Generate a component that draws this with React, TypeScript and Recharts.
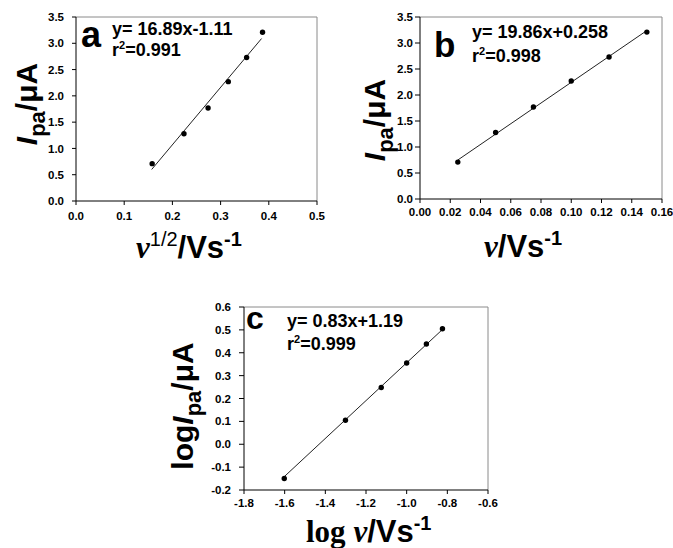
import React from 'react';
import { ScatterChart, Scatter, XAxis, YAxis, ReferenceLine } from 'recharts';

const sqrtScan = [0.158, 0.224, 0.274, 0.316, 0.354, 0.387];
const scanRate = [0.025, 0.05, 0.075, 0.1, 0.125, 0.15];
const ipa = [0.71, 1.28, 1.77, 2.27, 2.73, 3.21];
const logScan = [-1.602, -1.301, -1.125, -1.0, -0.903, -0.824];
const logIpa = [-0.15, 0.105, 0.248, 0.355, 0.438, 0.505];

// fitted line end points
const fitAX = [0.157, 0.385];
const fitAY = [0.6, 3.09];
const fitBX = [0.025, 0.15];
const fitBY = [0.75, 3.24];
const fitCX = [-1.6, -0.82];
const fitCY = [-0.14, 0.505];

// ticks
const aXTicks = [0, 0.1, 0.2, 0.3, 0.4, 0.5];
const abYTicks = [0, 0.5, 1, 1.5, 2, 2.5, 3, 3.5];
const bXTicks = [0, 0.02, 0.04, 0.06, 0.08, 0.1, 0.12, 0.14, 0.16];
const cXTicks = [-1.8, -1.6, -1.4, -1.2, -1.0, -0.8, -0.6];
const cYTicks = [-0.2, -0.1, 0, 0.1, 0.2, 0.3, 0.4, 0.5, 0.6];

const zip = (xs: number[], ys: number[]) => xs.map((x, i) => ({ x, y: ys[i] }));

const sans = '"Liberation Sans", Arial, Helvetica, sans-serif';
const serif = '"Liberation Serif", "Times New Roman", serif';

const tickStyle = { fontSize: 11.5, fontWeight: 700, fill: '#000', fontFamily: sans };

const Dot = (props: any) => <circle cx={props.cx} cy={props.cy} r={2.7} fill="#000" />;
const NoDot = () => <g />;

interface PanelProps {
  left: number;
  top: number;
  width: number;
  height: number;
  right: number;
  yWidth: number;
  xHeight: number;
  yTickSize: number;
  yTickMargin: number;
  xTickMargin: number;
  xDomain: [number, number];
  yDomain: [number, number];
  xTicks: number[];
  yTicks: number[];
  xDigits: number;
  yDigits: number;
  points: { x: number; y: number }[];
  fit: { x: number; y: number }[];
}

function Panel(p: PanelProps) {
  return (
    <div style={{ position: 'absolute', left: p.left, top: p.top }}>
      <ScatterChart width={p.width} height={p.height} margin={{ top: 17, right: p.right, bottom: 0, left: 0 }}>
        <XAxis
          type="number"
          dataKey="x"
          domain={p.xDomain}
          ticks={p.xTicks}
          allowDataOverflow
          height={p.xHeight}
          tickFormatter={(v: number) => v.toFixed(p.xDigits)}
          tick={tickStyle}
          tickSize={4}
          tickMargin={p.xTickMargin}
          stroke="#000"
          interval={0}
        />
        <YAxis
          type="number"
          dataKey="y"
          domain={p.yDomain}
          ticks={p.yTicks}
          allowDataOverflow
          width={p.yWidth}
          tickFormatter={(v: number) => v.toFixed(p.yDigits)}
          tick={tickStyle}
          tickSize={p.yTickSize}
          tickMargin={p.yTickMargin}
          stroke="#000"
          interval={0}
        />
        <ReferenceLine y={p.yDomain[1]} stroke="#8a8a8a" />
        <ReferenceLine x={p.xDomain[1]} stroke="#8a8a8a" />
        <Scatter data={p.fit} line={{ stroke: '#222', strokeWidth: 1 }} shape={NoDot} isAnimationActive={false} />
        <Scatter data={p.points} shape={Dot} isAnimationActive={false} />
      </ScatterChart>
    </div>
  );
}

export default function App() {
  return (
    <div style={{ position: 'absolute', left: 0, top: 0, width: 673, height: 548, background: '#fff', overflow: 'hidden' }}>
      <Panel
        left={0} top={0} width={330} height={270} right={13} yWidth={76} xHeight={69}
        yTickSize={4} yTickMargin={8} xTickMargin={7}
        xDomain={[0, 0.5]} yDomain={[0, 3.5]} xTicks={aXTicks} yTicks={abYTicks} xDigits={1} yDigits={1}
        points={zip(sqrtScan, ipa)} fit={zip(fitAX, fitAY)}
      />
      <Panel
        left={340} top={0} width={333} height={270} right={11} yWidth={80} xHeight={71}
        yTickSize={5} yTickMargin={2} xTickMargin={5}
        xDomain={[0, 0.16]} yDomain={[0, 3.5]} xTicks={bXTicks} yTicks={abYTicks} xDigits={2} yDigits={1}
        points={zip(scanRate, ipa)} fit={zip(fitBX, fitBY)}
      />
      <Panel
        left={170} top={290} width={330} height={258} right={12} yWidth={74} xHeight={58}
        yTickSize={5} yTickMargin={8} xTickMargin={5}
        xDomain={[-1.8, -0.6]} yDomain={[-0.2, 0.6]} xTicks={cXTicks} yTicks={cYTicks} xDigits={1} yDigits={1}
        points={zip(logScan, logIpa)} fit={zip(fitCX, fitCY)}
      />
      <svg width={673} height={548} style={{ position: 'absolute', left: 0, top: 0, pointerEvents: 'none' }}>
        <g fontFamily={sans} fontWeight="bold" fill="#000">
          {/* panel a */}
          <text x={81} y={47} fontSize={36}>a</text>
          <text x={112} y={35} fontSize={18}>y= 16.89x-1.11</text>
          <text x={112} y={56} fontSize={18}>r<tspan fontSize={11} dy={-7}>2</tspan><tspan dy={7}>=0.991</tspan></text>
          <text x={37} y={104} fontSize={30} textAnchor="middle" transform="rotate(-90 37 104)">
            <tspan fontStyle="italic">I</tspan><tspan fontSize={22} dy={8}>pa</tspan><tspan dy={-8}>/μA</tspan>
          </text>
          <text x={136} y={258} fontSize={31}>
            <tspan fontFamily={serif} fontStyle="italic">ν</tspan><tspan fontSize={20} fontWeight="normal" dy={-12}>1/2</tspan><tspan dy={12}>/Vs</tspan><tspan fontSize={20} dy={-12}>-1</tspan>
          </text>

          {/* panel b */}
          <text x={434} y={57} fontSize={35}>b</text>
          <text x={472} y={38} fontSize={18}>y= 19.86x+0.258</text>
          <text x={472} y={62} fontSize={18}>r<tspan fontSize={11} dy={-7}>2</tspan><tspan dy={7}>=0.998</tspan></text>
          <text x={385} y={120} fontSize={30} textAnchor="middle" transform="rotate(-90 385 120)">
            <tspan fontStyle="italic">I</tspan><tspan fontSize={22} dy={8}>pa</tspan><tspan dy={-8}>/μA</tspan>
          </text>
          <text x={484} y={257} fontSize={31}>
            <tspan fontFamily={serif} fontStyle="italic">ν</tspan><tspan>/Vs</tspan><tspan fontSize={20} dy={-12}>-1</tspan>
          </text>

          {/* panel c */}
          <text x={246} y={329} fontSize={32}>c</text>
          <text x={287} y={327} fontSize={18}>y= 0.83x+1.19</text>
          <text x={287} y={350} fontSize={18}>r<tspan fontSize={11} dy={-7}>2</tspan><tspan dy={7}>=0.999</tspan></text>
          <text x={193} y={406} fontSize={30} textAnchor="middle" transform="rotate(-90 193 406)">
            log<tspan fontStyle="italic">I</tspan><tspan fontSize={22} dy={8}>pa</tspan><tspan dy={-8}>/μA</tspan>
          </text>
          <text x={306} y={542} fontSize={31}>
            <tspan fontFamily={serif}>log </tspan><tspan fontFamily={serif} fontStyle="italic">ν</tspan><tspan>/Vs</tspan><tspan fontSize={20} dy={-12}>-1</tspan>
          </text>
        </g>
      </svg>
    </div>
  );
}
